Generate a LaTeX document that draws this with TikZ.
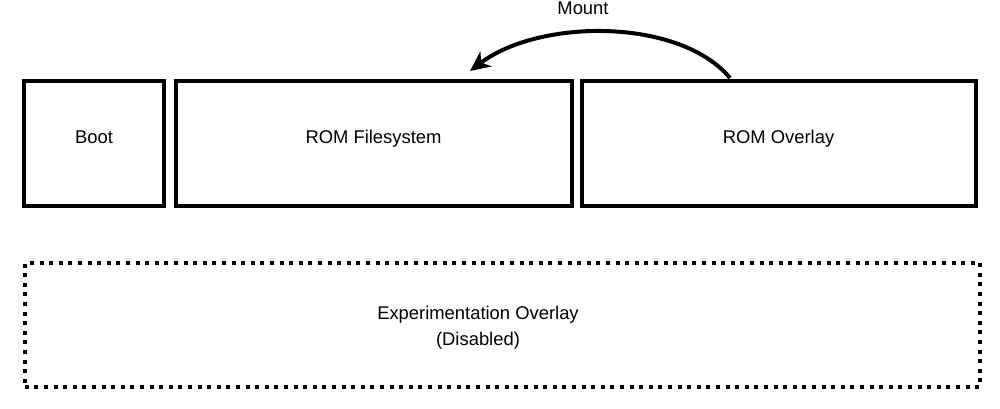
\documentclass[tikz,border=0pt]{standalone}
\usepackage{fontspec}
\setmainfont{Liberation Sans}
\usetikzlibrary{arrows.meta}
\begin{document}
\begin{tikzpicture}[x=0.75pt,y=-0.75pt,
  txt/.style={font=\fontsize{13.8}{19.5}\selectfont},
  blk/.style={draw, line width=3pt, inner sep=0pt, txt, text height=9pt, text depth=9pt},
  dotbox/.style={draw, line width=3pt, dash pattern=on 3pt off 4.2pt, inner sep=0pt, minimum width=716.5pt, minimum height=93pt},
  mountarrow/.style={line width=3pt, -{Stealth[length=15pt,width=14pt,inset=4.5pt]}}]
\useasboundingbox (0,0) rectangle (1000,408);
\node[blk, minimum width=105.5pt, minimum height=94pt] (boot) at (94,143.5) {Boot};
\node[blk, minimum width=297pt, minimum height=94pt] (romfs) at (373.5,143.5) {ROM Filesystem};
\node[blk, minimum width=295.5pt, minimum height=94pt] (romov) at (778.5,143.5) {ROM Overlay};
\node[dotbox] (exp) at (502.5,325) {};
\node[txt, align=center] (exptext) at (478,328) {Experimentation Overlay\\(Disabled)};
\coordinate (src) at (730,78);
\coordinate (dst) at (470,71);
\draw[mountarrow] (src) .. controls (680,18) and (540,18) .. (dst);
\node[txt] (mount) at (583,8) {Mount};
\end{tikzpicture}
\end{document}
